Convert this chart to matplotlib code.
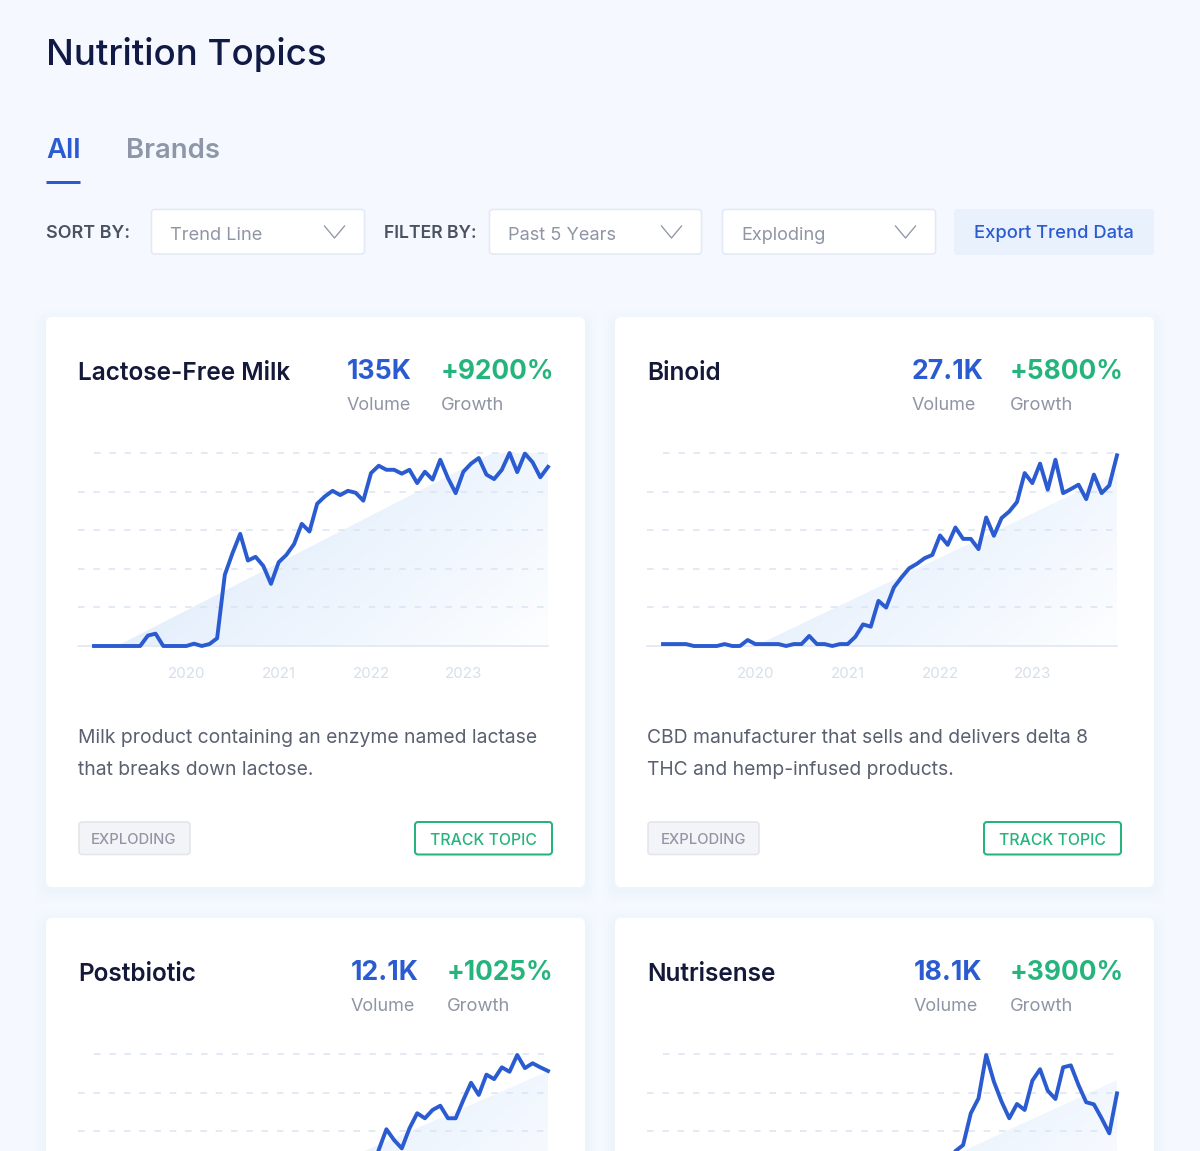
import numpy as np
import matplotlib
matplotlib.use("Agg")
import matplotlib.pyplot as plt
from matplotlib.colors import LinearSegmentedColormap
from matplotlib.patches import FancyBboxPatch, Polygon

plt.rcParams['font.family'] = ['Inter', 'DejaVu Sans']
plt.rcParams['lines.scale_dashes'] = False

''' DATA '''

titles = ['Lactose-Free Milk', 'Binoid', 'Postbiotic', 'Nutrisense']
volumes = ['135K', '27.1K', '12.1K', '18.1K']
growths = ['+9200%', '+5800%', '+1025%', '+3900%']
descriptions = [
    ['Milk product containing an enzyme named lactase', 'that breaks down lactose.'],
    ['CBD manufacturer that sells and delivers delta 8', 'THC and hemp-infused products.'],
]
years = ['2020', '2021', '2022', '2023']
year_ticks = [12, 24, 36, 48]

lactose = [0, 0, 0, 0, 0, 0, 0, 5.4, 6.4, 0, 0, 0, 0, 1.2, 0, 1, 4, 36.9, 48.1, 58.1,
           44.3, 46.2, 41.5, 32.2, 43.4, 47.2, 52.8, 63.3, 59.3, 73.7, 77.5, 80.4, 78.2, 80.4, 79.4, 75.3,
           89.6, 93.4, 91.3, 91.3, 89.3, 91.3, 84.4, 90.3, 86.2, 96.5, 87, 79.2, 90.3, 94.5, 97.4, 88.8,
           86.5, 91.3, 100, 90.1, 99.7, 95.2, 87.4, 92.8]
binoid = [1, 1, 1, 1, 0, 0, 0, 0, 1, 0, 0, 3.1, 1, 1, 1, 1, 0, 1, 1, 5.2,
          1, 1, 0, 1, 1, 4.8, 11.2, 10, 23.4, 19.9, 30.3, 35.6, 40.3, 42.6, 45.5, 47.2,
          57.3, 52.4, 61.4, 55.5, 55.5, 50.2, 66.6, 57.1, 66.3, 69.7, 74.6, 89.6, 84.4, 94.5, 81, 96.5,
          79.2, 81.3, 83.6, 76.1, 88.8, 79.2, 83.2, 98.8]
# the two lower charts run off the bottom of the picture, only the visible end is read
postbiotic = [35, 50.3, 61, 55.4, 51.1, 61.5, 69.3, 66.7, 71, 73.2, 66.7, 66.7, 76.2, 85.1, 78.8,
              89.3, 87, 93.1, 90.8, 99.5, 92.7, 95.2, 93.1, 91.2]
nutrisense = [40, 49.7, 52.8, 69.3, 77, 99.5, 85.7, 75.3, 66.7, 74.1, 71, 86.2, 92.1, 81, 76.7,
              93.1, 94.1, 83.9, 75, 73.9, 66.7, 58.9, 79.6]
series = [lactose, binoid, postbiotic, nutrisense]

# shaded wedge under each chart: first month and height at the last month
wedge_start = [3, 12, 6.4, 12]
wedge_end = [114.6, 89.6, 91, 86.5]

''' STYLE '''

BLUE = '#2b5bd0'
GREEN = '#25b47c'
GREY = '#8f95a5'
DARK = '#14193a'
GRID = '#d9e4f4'
wedge_cmap = LinearSegmentedColormap.from_list(
    'wedge', [(0, '#e3eefb'), (0.35, '#e3eefb'), (0.7, '#f0f6fe'), (1, '#fbfdff')])

W, H = 1200, 1151


def pt(px):
    return px * 0.72


def box(x0, y0, x1, y1, fc, ec='none', lw=0, r=3, **kwargs):
    p = FancyBboxPatch((x0, y0), x1 - x0, y1 - y0, boxstyle=f'round,pad=0,rounding_size={r}',
                       fc=fc, ec=ec, lw=lw, **kwargs)
    bg.add_patch(p)


def label(x, y, s, size, color, weight='normal', ha='left'):
    # +2 because va='center' sits a little high for this font
    bg.text(x, y + 2, s, fontsize=pt(size), color=color, fontweight=weight, ha=ha, va='center')


fig = plt.figure(figsize=(W / 100, H / 100), dpi=100, facecolor='#f5f9ff')

# whole picture in pixels, for the page furniture
bg = fig.add_axes([0, 0, 1, 1])
bg.set_xlim(0, W)
bg.set_ylim(H, 0)
bg.axis('off')

''' HEADER '''

label(46, 52, 'Nutrition Topics', 36.7, '#111a45', 'medium')
label(46, 149, 'All', 27.5, BLUE, 'semibold')
label(126, 149, 'Brands', 27.5, '#8e97a8', 'semibold')
bg.plot([46, 80], [181.5, 181.5], color=BLUE, lw=pt(3), solid_capstyle='butt')

label(46, 231.5, 'SORT BY:', 18, '#4a5161', 'semibold')
label(384, 231.5, 'FILTER BY:', 17.6, '#4a5161', 'semibold')

for x0, x1, s in [(151.5, 364.5, 'Trend Line'), (489.5, 701.5, 'Past 5 Years'), (722.5, 935.5, 'Exploding')]:
    box(x0, 209.5, x1, 254, 'white', '#e2eaf6', pt(1.6))
    label(x0 + 18.5, 233, s, 18.2, GREY)
    bg.plot([x1 - 40, x1 - 30, x1 - 20], [226, 238, 226], color=GREY, lw=pt(1.3))

box(954, 209, 1154, 255, '#e9f1fc')
label(1054, 231, 'Export Trend Data', 18.4, BLUE, 'medium', 'center')

''' CARDS '''

for i in range(4):
    dx = 569 * (i % 2)
    dy = 601 * (i // 2)

    # soft shadow, then the card
    for grow, alpha in [(12, 0.012), (8, 0.015), (4, 0.02)]:
        box(46 + dx - grow, 317 + dy - grow + 4, 585 + dx + grow, 887 + dy + grow + 4, '#8aa6d8', r=10, alpha=alpha)
    box(46 + dx, 317 + dy, 585 + dx, 887 + dy, 'white', r=6)

    label(78 + dx, 371 + dy, titles[i], 24.4, DARK, 'semibold')
    vol_x = [347, 912, 351, 914][i]
    gro_x = [441, 1010, 447, 1010][i]
    label(vol_x, 370 + dy, volumes[i], 26.6, BLUE, 'bold')
    label(gro_x, 370 + dy, growths[i], 26.2, GREEN, 'bold')
    label(vol_x, 403 + dy, 'Volume', 18, GREY)
    label(gro_x, 403 + dy, 'Growth', 18.4, GREY)

    # chart axes: month 0 sits at x=94 and month 59 at x=548
    left, right = 78 + dx, 548 + dx
    top, bottom = 453 + dy, 646 + dy
    ax = fig.add_axes([left / W, 1 - bottom / H, (right - left) / W, (bottom - top) / H])
    ax.patch.set_alpha(0)
    for s in ax.spines.values():
        s.set_visible(False)

    xlim = (-16 / 7.695, 59)
    grad = np.add.outer(np.linspace(0, 0.35, 100), np.linspace(0, 0.7, 200))
    im = ax.imshow(grad, extent=(xlim[0], xlim[1], 0, 100), cmap=wedge_cmap, vmin=0, vmax=1,
                   aspect='auto', origin='upper', zorder=1)
    wedge = Polygon([(wedge_start[i], 0), (59, wedge_end[i]), (59, 0)], transform=ax.transData)
    im.set_clip_path(wedge)

    for v in [20, 40, 60, 80]:
        ax.plot(xlim, [v, v], color=GRID, lw=pt(1.5), dashes=(pt(6.5), pt(8.8)), zorder=2)
    ax.plot([0, 59], [100, 100], color=GRID, lw=pt(1.5), dashes=(pt(6.5), pt(8.8)), zorder=2, clip_on=False)
    ax.plot(xlim, [0, 0], color='#dfe7f3', lw=pt(1.6), zorder=2, clip_on=False)

    values = series[i]
    months = np.arange(60 - len(values), 60)
    ax.plot(months, values, color=BLUE, lw=pt(3.9), solid_joinstyle='round', zorder=3, clip_on=False)

    ax.set_xlim(*xlim)
    ax.set_ylim(0, 100)
    ax.set_yticks([])
    if i < 2:
        ax.set_xticks(year_ticks, years, fontsize=pt(15), color='#d6dfec')
        ax.tick_params(axis='x', length=0, pad=pt(20.5))

        # description and buttons only exist on the top row, the rest is off the picture
        label(78 + dx, 736, descriptions[i][0], 19.3, '#5a6070')
        label(78 + dx, 768, descriptions[i][1], 19.3, '#5a6070')
        box(79 + dx, 822, 190 + dx, 854.5, '#f3f4f7', '#e3e5ea', pt(1.6))
        label(134 + dx, 838, 'EXPLODING', 14.8, '#9295a5', 'medium', 'center')
        box(415 + dx, 822, 552 + dx, 854.5, 'white', GREEN, pt(2))
        label(483.5 + dx, 838, 'TRACK TOPIC', 15.8, GREEN, 'medium', 'center')
    else:
        ax.set_xticks([])

fig.savefig('out.png', dpi=100, facecolor=fig.get_facecolor())
